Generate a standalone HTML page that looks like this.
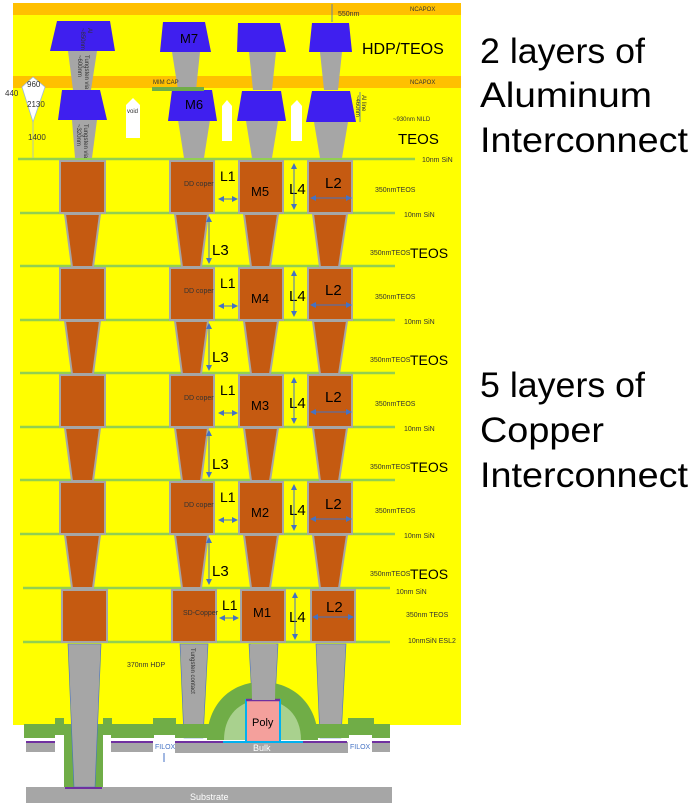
<!DOCTYPE html>
<html><head><meta charset="utf-8">
<style>
html,body{margin:0;padding:0;background:#fff;}
svg{display:block;}
text{font-family:"Liberation Sans",sans-serif;}
</style></head>
<body>
<svg width="700" height="810" viewBox="0 0 700 810" xmlns="http://www.w3.org/2000/svg">
<defs>
<marker id="ah" markerWidth="6" markerHeight="6" refX="5" refY="3" orient="auto-start-reverse"><path d="M0,0 L6,3 L0,6 z" fill="#4472c4"/></marker>
<g id="lvl">
  <rect x="60" y="0" width="45" height="52" fill="#c55a11" stroke="#a6a6a6" stroke-width="2"/>
  <rect x="170" y="0" width="44" height="52" fill="#c55a11" stroke="#a6a6a6" stroke-width="2"/>
  <rect x="239" y="0" width="44" height="52" fill="#c55a11" stroke="#a6a6a6" stroke-width="2"/>
  <rect x="308" y="0" width="44" height="52" fill="#c55a11" stroke="#a6a6a6" stroke-width="2"/>
  <path d="M65,53 L100,53 L93,106 L72,106 Z" fill="#c55a11" stroke="#a6a6a6" stroke-width="2"/>
  <path d="M175,53 L208,53 L201,106 L182,106 Z" fill="#c55a11" stroke="#a6a6a6" stroke-width="2"/>
  <path d="M244,53 L278,53 L270,106 L251,106 Z" fill="#c55a11" stroke="#a6a6a6" stroke-width="2"/>
  <path d="M313,53 L347,53 L339,106 L320,106 Z" fill="#c55a11" stroke="#a6a6a6" stroke-width="2"/>
  <text x="184" y="25" font-size="7" fill="#333">DD coper</text>
  <text x="220" y="20" font-size="14">L1</text>
  <line x1="219" y1="38" x2="237" y2="38" stroke="#4472c4" stroke-width="1" marker-start="url(#ah)" marker-end="url(#ah)"/>
  <text x="289" y="33" font-size="15">L4</text>
  <line x1="294" y1="3" x2="294" y2="48" stroke="#4472c4" stroke-width="1" marker-start="url(#ah)" marker-end="url(#ah)"/>
  <text x="325" y="27" font-size="15">L2</text>
  <line x1="311" y1="37" x2="351" y2="37" stroke="#4472c4" stroke-width="1" marker-start="url(#ah)" marker-end="url(#ah)"/>
  <text x="212" y="94" font-size="15">L3</text>
  <line x1="209" y1="56" x2="209" y2="102" stroke="#4472c4" stroke-width="1" marker-start="url(#ah)" marker-end="url(#ah)"/>
  <text x="375" y="31" font-size="7" fill="#333">350nmTEOS</text>
  <text x="404" y="56" font-size="7" fill="#333">10nm SiN</text>
  <text x="370" y="94" font-size="7" fill="#333">350nmTEOS</text>
  <text x="410" y="97" font-size="14">TEOS</text>
</g>
</defs>

<rect x="13" y="3" width="448" height="722" fill="#ffff00"/>
<rect x="13" y="3" width="448" height="12" fill="#ffc000"/>
<rect x="13" y="76" width="448" height="12" fill="#ffc000"/>
<text x="410" y="11" font-size="6" fill="#333">NCAPOX</text>
<text x="410" y="84" font-size="6" fill="#333">NCAPOX</text>
<text x="338" y="16" font-size="7" fill="#333">550nm</text>
<line x1="332" y1="4" x2="332" y2="22" stroke="#4472c4" stroke-width="0.8"/>

<g stroke="#92d050" stroke-width="2.5">
<line x1="18" y1="159" x2="415" y2="159"/>
<line x1="20" y1="213" x2="395" y2="213"/>
<line x1="20" y1="266" x2="395" y2="266"/>
<line x1="20" y1="320" x2="395" y2="320"/>
<line x1="20" y1="373" x2="395" y2="373"/>
<line x1="20" y1="427" x2="395" y2="427"/>
<line x1="20" y1="480" x2="395" y2="480"/>
<line x1="20" y1="534" x2="395" y2="534"/>
<line x1="23" y1="588" x2="390" y2="588"/>
<line x1="23" y1="642" x2="390" y2="642"/>
</g>
<text x="422" y="162" font-size="7" fill="#333">10nm SiN</text>

<g fill="#a6a6a6">
<path d="M68,51 L97,51 L91,90 L73,90 Z"/>
<path d="M172,52 L200,52 L196,90 L178,90 Z"/>
<path d="M249,52 L276,52 L272,90 L253,90 Z"/>
<path d="M320,52 L342,52 L338,90 L324,90 Z"/>
<path d="M72,120 L97,120 L92,158 L75,158 Z"/>
<path d="M178,120 L210,120 L204,158 L184,158 Z"/>
<path d="M246,121 L278,121 L272,158 L252,158 Z"/>
<path d="M314,122 L348,122 L342,158 L320,158 Z"/>
</g>
<g fill="#3f1fef">
<path d="M57,21 L110,21 L115,51 L50,51 Z"/>
<path d="M163,22 L205,22 L211,52 L160,52 Z"/>
<path d="M238,23 L280,23 L286,52 L237,52 Z"/>
<path d="M312,23 L349,23 L352,52 L309,52 Z"/>
<path d="M62,90 L100,90 L107,120 L58,120 Z"/>
<path d="M172,90 L212,90 L217,121 L168,121 Z"/>
<path d="M242,91 L281,91 L286,121 L237,121 Z"/>
<path d="M312,91 L350,91 L356,122 L306,122 Z"/>
</g>
<text x="180" y="43" font-size="13">M7</text>
<text x="185" y="109" font-size="13">M6</text>
<text x="362" y="54" font-size="16">HDP/TEOS</text>
<text x="398" y="144" font-size="15">TEOS</text>
<text x="393" y="121" font-size="6" fill="#333">~930nm NILD</text>
<text transform="translate(88,28) rotate(90)" font-size="6" fill="#333">Al</text>
<text transform="translate(81,28) rotate(90)" font-size="6" fill="#333">~850nm</text>
<text transform="translate(85,55) rotate(90)" font-size="6" fill="#333">Tungsten via</text>
<text transform="translate(78,55) rotate(90)" font-size="6" fill="#333">~600nm</text>
<text transform="translate(84,124) rotate(90)" font-size="6" fill="#333">Tungsten via</text>
<text transform="translate(77,124) rotate(90)" font-size="6" fill="#333">~320nm</text>
<text transform="translate(362,95) rotate(90)" font-size="6" fill="#333">Al line</text>
<text transform="translate(356,95) rotate(90)" font-size="6" fill="#333">~460nm</text>
<line x1="360" y1="92" x2="360" y2="122" stroke="#4472c4" stroke-width="0.8"/>
<rect x="152" y="87" width="52" height="4" fill="#70ad47"/>
<text x="153" y="84" font-size="6" fill="#333">MIM CAP</text>
<path d="M126,138 L126,105 L133,98 L140,105 L140,138 Z" fill="#fff"/>
<path d="M222,141 L222,106 L227,100 L232,106 L232,141 Z" fill="#fff"/>
<path d="M291,141 L291,106 L297,100 L302,106 L302,141 Z" fill="#fff"/>
<text x="127" y="113" font-size="6" fill="#333">void</text>
<path d="M33,77 L45,87 L33,122 L22,87 Z" fill="#fff" stroke="#9bb7e0" stroke-width="0.8"/>
<line x1="33" y1="122" x2="33" y2="158" stroke="#9bb7e0" stroke-width="0.8"/>
<text x="27" y="87" font-size="8" fill="#333">960</text>
<text x="5" y="96" font-size="8" fill="#333">440</text>
<text x="27" y="107" font-size="8" fill="#333">2130</text>
<text x="28" y="140" font-size="8" fill="#333">1400</text>

<use href="#lvl" transform="translate(0,161)"/>
<use href="#lvl" transform="translate(0,268)"/>
<use href="#lvl" transform="translate(0,375)"/>
<use href="#lvl" transform="translate(0,482)"/>
<text x="251" y="196" font-size="13">M5</text>
<text x="251" y="303" font-size="13">M4</text>
<text x="251" y="410" font-size="13">M3</text>
<text x="251" y="517" font-size="13">M2</text>

<g fill="#a6a6a6" stroke="#4472c4" stroke-width="0.6">
<path d="M180,644 L208,644 L203,738 L184,738 Z"/>
<path d="M249,644 L278,644 L275,700 L252,700 Z"/>
<path d="M316,644 L346,644 L341,738 L320,738 Z"/>
</g>
<g fill="#c55a11" stroke="#a6a6a6" stroke-width="2">
<rect x="62" y="590" width="45" height="52"/>
<rect x="172" y="590" width="44" height="52"/>
<rect x="241" y="590" width="44" height="52"/>
<rect x="311" y="590" width="44" height="52"/>
</g>
<text x="183" y="615" font-size="7" fill="#333">SD-Copper</text>
<text x="222" y="610" font-size="14">L1</text>
<line x1="220" y1="618" x2="238" y2="618" stroke="#4472c4" stroke-width="1" marker-start="url(#ah)" marker-end="url(#ah)"/>
<text x="253" y="617" font-size="13">M1</text>
<text x="289" y="622" font-size="15">L4</text>
<line x1="295" y1="593" x2="295" y2="639" stroke="#4472c4" stroke-width="1" marker-start="url(#ah)" marker-end="url(#ah)"/>
<text x="326" y="612" font-size="15">L2</text>
<line x1="313" y1="617" x2="353" y2="617" stroke="#4472c4" stroke-width="1" marker-start="url(#ah)" marker-end="url(#ah)"/>
<text x="396" y="594" font-size="7" fill="#333">10nm SiN</text>
<text x="406" y="617" font-size="7" fill="#333">350nm TEOS</text>
<text x="408" y="643" font-size="7" fill="#333">10nmSiN ESL2</text>
<text x="127" y="667" font-size="7" fill="#333">370nm HDP</text>
<text transform="translate(191,648) rotate(90)" font-size="6" fill="#333">Tungsten contact</text>

<path d="M24,724 L55,724 L55,718 L64,718 L64,724 L103,724 L103,718 L112,718 L112,724 L153,724 L153,718 L176,718 L176,738 L24,738 Z" fill="#70ad47"/>
<path d="M348,724 L348,718 L374,718 L374,724 L390,724 L390,738 L348,738 Z" fill="#70ad47"/>
<rect x="176" y="724" width="172" height="14" fill="#70ad47"/>
<rect x="64" y="735" width="39" height="53" fill="#70ad47"/>
<rect x="55" y="735" width="9" height="15" fill="#fff"/>
<rect x="103" y="735" width="8" height="15" fill="#fff"/>
<path d="M207,740 C207,705 230,682 262,682 C294,682 318,705 318,740 Z" fill="#70ad47"/>
<path d="M224,740 C224,715 240,700 262,700 C285,700 301,715 301,740 Z" fill="#a9d18e"/>
<rect x="246" y="700" width="34" height="42" fill="#f4a09c" stroke="#00b0f0" stroke-width="2"/>
<line x1="246" y1="700" x2="280" y2="700" stroke="#7030a0" stroke-width="2.5"/>
<text x="252" y="726" font-size="11">Poly</text>
<path d="M68,644 L101,644 L95,787 L74,787 Z" fill="#a6a6a6" stroke="#4472c4" stroke-width="0.6"/>
<path d="M251,644 L276,644 L275,700 L252,700 Z" fill="#a6a6a6"/>
<g fill="#a6a6a6">
<rect x="26" y="742" width="29" height="10"/>
<rect x="111" y="742" width="42" height="10"/>
<rect x="175" y="742" width="173" height="11"/>
<rect x="372" y="742" width="18" height="10"/>
<rect x="26" y="787" width="366" height="16"/>
</g>
<g stroke="#7030a0" stroke-width="2">
<line x1="26" y1="742" x2="55" y2="742"/>
<line x1="111" y1="742" x2="153" y2="742"/>
<line x1="175" y1="742" x2="223" y2="742"/>
<line x1="303" y1="742" x2="347" y2="742"/>
<line x1="372" y1="742" x2="390" y2="742"/>
<line x1="65" y1="788" x2="102" y2="788"/>
</g>
<line x1="223" y1="742" x2="303" y2="742" stroke="#00b0f0" stroke-width="2"/>
<rect x="154" y="735" width="21" height="18" fill="#fff"/>
<rect x="349" y="735" width="23" height="18" fill="#fff"/>
<text x="155" y="749" font-size="7" fill="#4472c4">FILOX</text>
<text x="350" y="749" font-size="7" fill="#4472c4">FILOX</text>
<line x1="164" y1="753" x2="164" y2="762" stroke="#4472c4" stroke-width="1"/>
<text x="253" y="751" font-size="9" fill="#fff">Bulk</text>
<text x="190" y="800" font-size="9" fill="#fff">Substrate</text>

<g font-size="35" fill="#000">
<text x="480" y="63" textLength="165" lengthAdjust="spacingAndGlyphs">2 layers of</text>
<text x="480" y="107" textLength="172" lengthAdjust="spacingAndGlyphs">Aluminum</text>
<text x="480" y="152" textLength="208" lengthAdjust="spacingAndGlyphs">Interconnect</text>
<text x="480" y="397" textLength="165" lengthAdjust="spacingAndGlyphs">5 layers of</text>
<text x="480" y="442" textLength="124" lengthAdjust="spacingAndGlyphs">Copper</text>
<text x="480" y="487" textLength="208" lengthAdjust="spacingAndGlyphs">Interconnect</text>
</g>
</svg>
</body></html>
